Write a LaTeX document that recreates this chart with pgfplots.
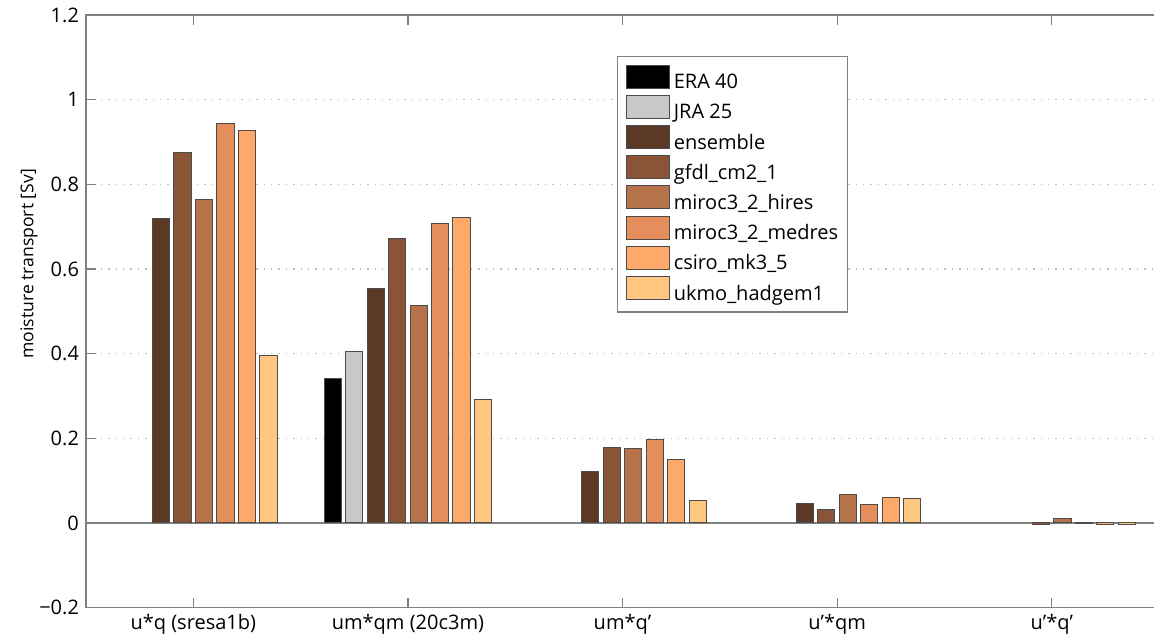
\documentclass[border=0pt]{standalone}
\usepackage{pgfplots}
\pgfplotsset{compat=1.18}
\usepackage{fontspec}
\setmainfont{Open Sans}
\definecolor{cEns}{RGB}{91,57,36}
\definecolor{cGfdl}{RGB}{137,85,54}
\definecolor{cHires}{RGB}{182,114,72}
\definecolor{cMedres}{RGB}{228,142,91}
\definecolor{cCsiro}{RGB}{253,169,106}
\definecolor{cUkmo}{RGB}{255,199,127}
\definecolor{cJra}{RGB}{200,200,200}
\definecolor{axgray}{RGB}{128,128,128}
\pgfplotsset{
  mybar/.style={ybar, bar width=0.08, bar shift=#1, draw=black!70, line width=0.5pt,
    legend image code/.code={\draw[##1, line width=0.5pt] (0pt,-2.25pt) rectangle (21.5pt,9.25pt); \path[draw=none, fill=none] (0pt,0pt) -- (23.5pt,0pt);}},
}
\begin{document}
\begin{tikzpicture}
\begin{axis}[
  at={(0pt,0pt)}, anchor=south west,
  scale only axis, width=545pt, height=296.25pt,
  font=\fontsize{10}{12}\selectfont,
  xmin=0.5, xmax=5.579, ymin=-0.2, ymax=1.2,
  xtick={1,2,3,4,5},
  xticklabels={u*q (sresa1b), um*qm (20c3m), um*q', u'*qm, u'*q'},
  ytick={-0.2,0,0.2,0.4,0.6,0.8,1,1.2},
  yticklabels={−0.2,0,0.2,0.4,0.6,0.8,1,1.2},
  ytick pos=left,
  tick align=inside, major tick length=5pt,
  tick style={axgray, line width=0.6pt},
  axis line style={axgray, line width=0.75pt},
  ymajorgrids, major grid style={axgray!50, line width=0.6pt, dash pattern=on 0.7pt off 3pt},
  extra y ticks={0}, extra y tick labels={},
  extra y tick style={ymajorgrids, major grid style={axgray, solid, line width=0.75pt}},
  every axis y label/.style={at={(rel axis cs:0,0.58)}, rotate=90, anchor=center, yshift=28.5pt, font=\fontsize{8.8}{10.5}\selectfont},
  ylabel={moisture transport [Sv]},
  legend style={at={(0.4869,0.9308)}, anchor=north west, draw=axgray, line width=0.6pt, fill=white,
    inner xsep=4.5pt, inner ysep=4pt, row sep=1.1pt,
    nodes={inner sep=0pt, text height=7pt, text depth=2pt},
    font=\fontsize{10}{12}\selectfont},
  legend cell align=left,
]
\addplot[mybar=-0.35, fill=black] coordinates {(2,0.342)};
\addlegendentry{ERA 40}
\addplot[mybar=-0.25, fill=cJra] coordinates {(2,0.406)};
\addlegendentry{JRA 25}
\addplot[mybar=-0.15, fill=cEns] coordinates {(1,0.718) (2,0.554) (3,0.121) (4,0.045)};
\addlegendentry{ensemble}
\addplot[mybar=-0.05, fill=cGfdl] coordinates {(1,0.874) (2,0.671) (3,0.178) (4,0.032) (5,-0.005)};
\addlegendentry{gfdl\_cm2\_1}
\addplot[mybar=0.05, fill=cHires] coordinates {(1,0.764) (2,0.513) (3,0.175) (4,0.066) (5,0.010)};
\addlegendentry{miroc3\_2\_hires}
\addplot[mybar=0.15, fill=cMedres] coordinates {(1,0.943) (2,0.707) (3,0.196) (4,0.043) (5,-0.002)};
\addlegendentry{miroc3\_2\_medres}
\addplot[mybar=0.25, fill=cCsiro] coordinates {(1,0.927) (2,0.721) (3,0.149) (4,0.061) (5,-0.003)};
\addlegendentry{csiro\_mk3\_5}
\addplot[mybar=0.35, fill=cUkmo] coordinates {(1,0.396) (2,0.291) (3,0.054) (4,0.057) (5,-0.004)};
\addlegendentry{ukmo\_hadgem1}
\end{axis}
\pgfresetboundingbox
\path[use as bounding box] (-43pt,-17.75pt) rectangle (534pt,303.75pt);
\end{tikzpicture}
\end{document}
